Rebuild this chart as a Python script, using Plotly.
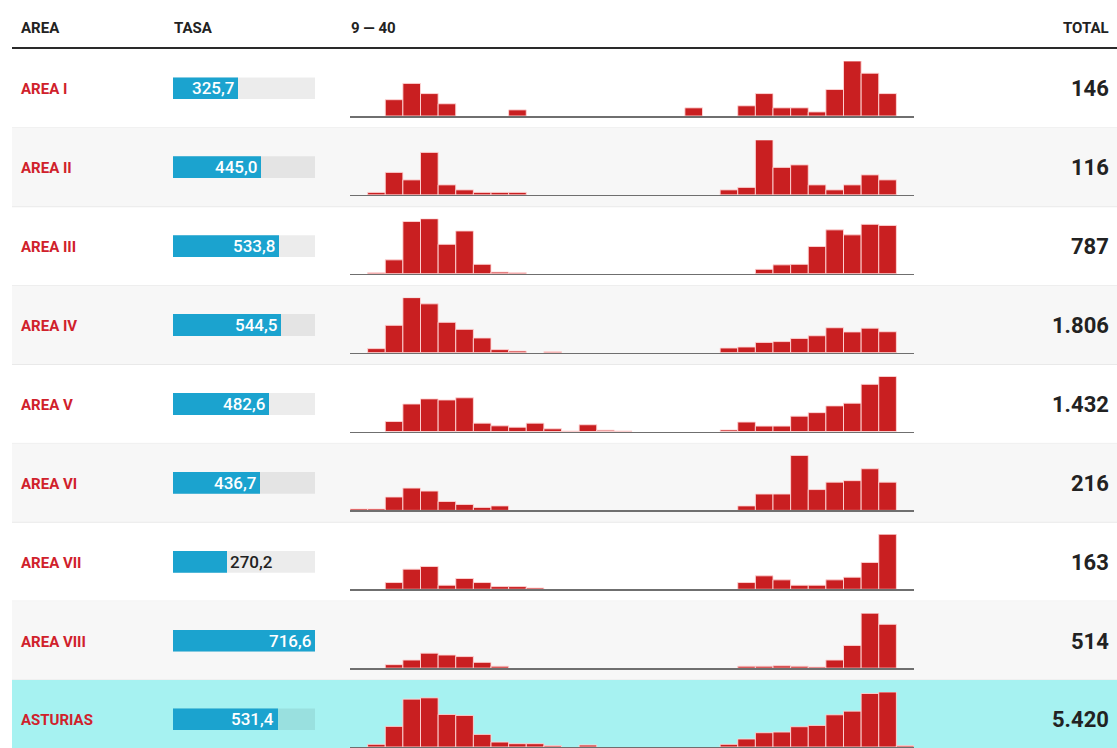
import plotly.graph_objects as go

W, H = 1117, 748

areas = ["AREA I", "AREA II", "AREA III", "AREA IV", "AREA V",
         "AREA VI", "AREA VII", "AREA VIII", "ASTURIAS"]
tasa = [325.7, 445.0, 533.8, 544.5, 482.6, 436.7, 270.2, 716.6, 531.4]
tasa_labels = ["325,7", "445,0", "533,8", "544,5", "482,6",
               "436,7", "270,2", "716,6", "531,4"]
totals = [146, 116, 787, 1806, 1432, 216, 163, 514, 5420]
total_labels = ["146", "116", "787", "1.806", "1.432", "216", "163", "514", "5.420"]
weeks = list(range(9, 41))

cases_area_i = [0, 0, 8, 16, 11, 6, 0, 0, 0, 3, 0, 0, 0, 0, 0, 0, 0, 0, 0, 4,
                0, 0, 5, 11, 4, 4, 2, 13, 27, 21, 11, 0]
cases_area_ii = [0, 1, 9, 6, 17, 4, 2, 1, 1, 1, 0, 0, 0, 0, 0, 0, 0, 0, 0, 0,
                 0, 2, 3, 22, 11, 12, 4, 2, 4, 8, 6, 0]
cases_area_iii = [0, 2, 25, 94, 99, 53, 77, 17, 3, 2, 0, 0, 0, 0, 0, 0, 0, 0, 0, 0,
                  0, 0, 0, 8, 16, 17, 49, 79, 70, 89, 87, 0]
cases_area_iv = [0, 20, 136, 274, 243, 151, 116, 73, 15, 8, 0, 5, 0, 0, 0, 0, 0, 0, 0, 0,
                 0, 23, 28, 51, 55, 71, 84, 124, 103, 122, 104, 0]
cases_area_v = [0, 0, 37, 102, 121, 117, 125, 31, 21, 16, 31, 10, 2, 25, 5, 2, 0, 0, 0, 0,
                0, 6, 35, 20, 20, 57, 70, 95, 105, 175, 204, 0]
cases_area_vi = [1, 1, 9, 15, 13, 6, 4, 2, 3, 0, 0, 0, 0, 0, 0, 0, 0, 0, 0, 0,
                 0, 0, 3, 11, 11, 37, 14, 19, 20, 28, 19, 0]
cases_area_vii = [0, 0, 5, 15, 17, 3, 8, 5, 2, 2, 1, 0, 0, 0, 0, 0, 0, 0, 0, 0,
                  0, 0, 5, 10, 7, 3, 3, 7, 9, 20, 41, 0]
cases_area_viii = [0, 0, 9, 21, 39, 34, 30, 15, 5, 0, 0, 0, 0, 0, 0, 0, 0, 0, 0, 0,
                   0, 0, 5, 5, 6, 5, 3, 21, 59, 143, 114, 0]
cases_asturias = [0, 31, 237, 550, 565, 374, 363, 145, 57, 38, 38, 15, 0, 23, 0, 0, 0, 0, 0, 0,
                  0, 31, 92, 164, 172, 233, 248, 370, 412, 615, 632, 15]

series = [cases_area_i, cases_area_ii, cases_area_iii, cases_area_iv, cases_area_v,
          cases_area_vi, cases_area_vii, cases_area_viii, cases_asturias]

# ---- layout geometry (pixels) ----
ROW0 = 49.0
ROWH = 78.875
HEADER_Y = 28
TASA_X0, TASA_X1 = 173, 315
SPK_X0, SPK_X1 = 350, 914
LEFT = 12

RED = "#c91f21"
NAME_RED = "#d0212b"
BLUE = "#1ba3cf"
DARK = "#222222"
FONT = "Roboto, Arial, sans-serif"


def py(y):
    return 1 - y / H


def px(x):
    return x / W


fig = go.Figure()
layout = dict(
    width=W, height=H, margin=dict(l=0, r=0, t=0, b=0),
    paper_bgcolor="white", plot_bgcolor="rgba(0,0,0,0)",
    barmode="overlay", bargap=0, showlegend=False,
    font=dict(family=FONT, color=DARK),
)
shapes = []
annotations = []

tmax = max(tasa)

for r in range(len(areas)):
    top = ROW0 + r * ROWH
    bot = top + ROWH
    mid = (top + bot) / 2
    # row background
    if r == len(areas) - 1:
        bg = "#a6f2f1"
    elif r % 2 == 1:
        bg = "#f7f7f7"
    else:
        bg = None
    if bg:
        shapes.append(dict(type="rect", xref="paper", yref="paper", layer="below",
                           x0=px(LEFT), x1=1, y0=max(py(bot), 0), y1=py(top),
                           fillcolor=bg, line=dict(width=0)))
    if r < len(areas) - 1:
        shapes.append(dict(type="line", xref="paper", yref="paper", layer="below",
                           x0=px(LEFT), x1=1, y0=py(bot), y1=py(bot),
                           line=dict(color="#e9e9e9", width=1)))

    # TASA bar subplot
    k1 = 2 * r + 1
    k2 = 2 * r + 2
    xa1 = "x" if k1 == 1 else f"x{k1}"
    ya1 = "y" if k1 == 1 else f"y{k1}"
    xa2 = f"x{k2}"
    ya2 = f"y{k2}"
    fig.add_trace(go.Bar(x=[tmax], y=[0], orientation="h", width=1,
                         marker=dict(color="rgba(0,0,0,0.075)", line=dict(width=0)),
                         hoverinfo="skip", xaxis=xa1, yaxis=ya1))
    fig.add_trace(go.Bar(x=[tasa[r]], y=[0], orientation="h", width=1,
                         marker=dict(color=BLUE, line=dict(width=0)),
                         hoverinfo="skip", xaxis=xa1, yaxis=ya1))
    layout["xaxis" if k1 == 1 else f"xaxis{k1}"] = dict(
        domain=[px(TASA_X0), px(TASA_X1)], range=[0, tmax], anchor=ya1,
        visible=False, fixedrange=True)
    layout["yaxis" if k1 == 1 else f"yaxis{k1}"] = dict(
        domain=[py(mid + 11), py(mid - 11)], range=[-0.5, 0.5], anchor=xa1,
        visible=False, fixedrange=True)

    inside = tasa[r] / tmax > 0.42
    annotations.append(dict(
        xref=xa1, yref=ya1, x=tasa[r], y=0, text=tasa_labels[r], showarrow=False,
        xanchor="right" if inside else "left", yanchor="middle",
        xshift=-2 if inside else 1, yshift=0,
        font=dict(family=FONT, size=17, color="white" if inside else DARK, weight=500)))

    # sparkline subplot (zero weeks are drawn as no bar)
    vals = [v if v > 0 else None for v in series[r]]
    fig.add_trace(go.Bar(x=weeks, y=vals,
                         marker=dict(color=RED, line=dict(color="rgba(255,215,215,0.9)", width=1)),
                         hoverinfo="skip", xaxis=xa2, yaxis=ya2))
    layout[f"xaxis{k2}"] = dict(
        domain=[px(SPK_X0), px(SPK_X1)], range=[weeks[0] - 0.5, weeks[-1] + 0.5],
        anchor=ya2, showgrid=False, zeroline=False, showticklabels=False, ticks="",
        showline=True, linecolor="#6f6f6f", linewidth=1.5, fixedrange=True)
    layout[f"yaxis{k2}"] = dict(
        domain=[max(py(top + 67), 0), py(top + 12)], range=[0, max(series[r])],
        anchor=xa2, visible=False, fixedrange=True)

    # area name
    annotations.append(dict(
        xref="paper", yref="paper", x=px(19), y=py(mid + 1), text=f"<b>{areas[r]}</b>",
        showarrow=False, xanchor="left", yanchor="middle",
        font=dict(family=FONT, size=15, color=NAME_RED)))
    # total
    annotations.append(dict(
        xref="paper", yref="paper", x=px(1111), y=py(mid + 0.5), text=f"<b>{total_labels[r]}</b>",
        showarrow=False, xanchor="right", yanchor="middle",
        font=dict(family=FONT, size=22, color=DARK)))

# header
for txt, x, anchor in [("AREA", 19, "left"), ("TASA", 172, "left"),
                       (f"{weeks[0]} \u2014 {weeks[-1]}", 349, "left"),
                       ("TOTAL", 1111, "right")]:
    annotations.append(dict(
        xref="paper", yref="paper", x=px(x), y=py(HEADER_Y), text=f"<b>{txt}</b>",
        showarrow=False, xanchor=anchor, yanchor="middle",
        font=dict(family=FONT, size=15, color=DARK)))
shapes.append(dict(type="line", xref="paper", yref="paper",
                   x0=px(LEFT), x1=1, y0=py(48), y1=py(48),
                   line=dict(color="#2a2a2a", width=2)))

layout["shapes"] = shapes
layout["annotations"] = annotations
fig.update_layout(**layout)

fig.write_html("out.html", config={"displayModeBar": False, "staticPlot": True},
               post_script="document.body.style.margin='0';")
